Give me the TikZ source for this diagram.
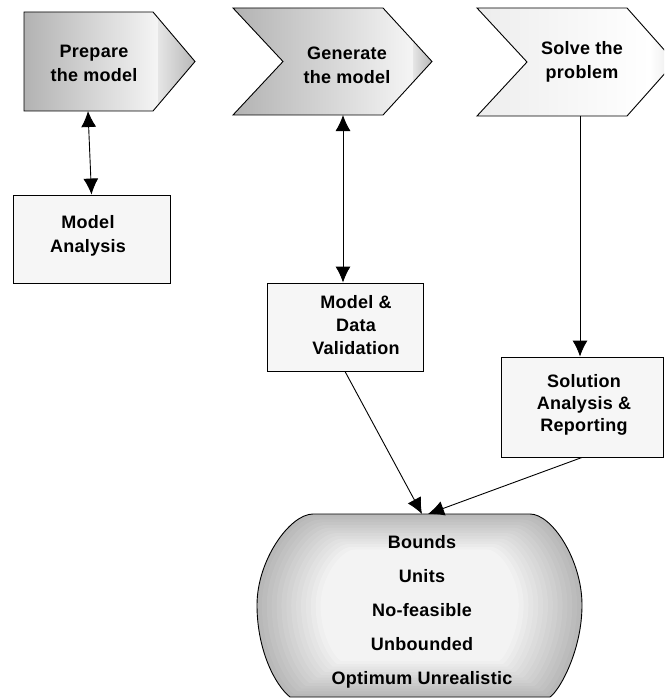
\documentclass[tikz,border=0pt]{standalone}
\usepackage{fontspec}
\setmainfont{Liberation Sans}[LetterSpace=1.5]
\usetikzlibrary{arrows.meta}

\definecolor{shadeA}{gray}{0.70}
\definecolor{shadeB}{gray}{0.96}
\definecolor{shadeC}{gray}{0.90}
\definecolor{shadeD}{gray}{0.72}
\definecolor{paleA}{gray}{0.93}
\definecolor{paleB}{gray}{1.0}
\definecolor{paleC}{gray}{0.91}
\definecolor{boxfill}{gray}{0.965}

\tikzset{
  outline/.style={draw=black, line width=0.9pt, line join=miter},
  txt/.style={font=\fontsize{18}{24}\selectfont\bfseries, align=center, inner sep=0pt},
  box/.style={outline, fill=boxfill, inner sep=0pt},
  link/.style={line width=0.9pt, -{Latex[length=16pt,width=15pt]}},
  twoway/.style={line width=0.9pt, {Latex[length=16pt,width=15pt]}-{Latex[length=16pt,width=15pt]}},
}

\begin{document}
\begin{tikzpicture}[x=1pt, y=-1pt]
  \clip (0,0) rectangle (664,698);
  \fill[white] (0,0) rectangle (664,698);

  % ---- step 1: Prepare the model (pentagon) ----
  \begin{scope}
    \clip (24,12) -- (153,12) -- (195,61.5) -- (153,111) -- (24,111) -- cycle;
    \shade[left color=shadeA, right color=shadeB] (24,12) rectangle (158,111);
    \shade[left color=shadeC, right color=shadeD] (158,12) rectangle (195,111);
  \end{scope}
  \draw[outline] (24,12) -- (153,12) -- (195,61.5) -- (153,111) -- (24,111) -- cycle;
  \node[txt] (prep) at (94,63) {Prepare\\the model};
  \coordinate (prep-b) at (88,111);

  % ---- step 2: Generate the model (chevron) ----
  \begin{scope}
    \clip (233,8) -- (383,8) -- (432,61.5) -- (383,115) -- (233,115) -- (283,61.5) -- cycle;
    \shade[left color=shadeA, right color=shadeB] (233,8) rectangle (413,115);
    \shade[left color=shadeC, right color=shadeD] (413,8) rectangle (432,115);
  \end{scope}
  \draw[outline] (233,8) -- (383,8) -- (432,61.5) -- (383,115) -- (233,115) -- (283,61.5) -- cycle;
  \node[txt] (gen) at (347,65) {Generate\\the model};
  \coordinate (gen-b) at (343,115);

  % ---- step 3: Solve the problem (chevron) ----
  \begin{scope}
    \clip (477,8) -- (627,8) -- (675,62) -- (627,116) -- (477,116) -- (527,62) -- cycle;
    \shade[left color=paleA, right color=paleB] (477,8) rectangle (650,116);
    \shade[left color=paleB, right color=paleC] (650,8) rectangle (675,116);
  \end{scope}
  \draw[outline] (477,8) -- (627,8) -- (675,62) -- (627,116) -- (477,116) -- (527,62) -- cycle;
  \node[txt] (solve) at (582,62) {Solve the\\problem};
  \coordinate (solve-b) at (580,116);

  % ---- analysis boxes ----
  \node[box, minimum width=157pt, minimum height=88pt] (ma) at (91.5,239) {};
  \node[txt] (ma-t) at (88,236) {Model\\Analysis};
  \node[box, minimum width=156pt, minimum height=88pt] (mdv) at (345,327) {};
  \node[txt, font=\fontsize{18}{23}\selectfont\bfseries] (mdv-t) at (356,325) {Model \&\\Data\\Validation};
  \node[box, minimum width=162pt, minimum height=100pt] (sol) at (582,407) {};
  \node[txt, font=\fontsize{18}{22}\selectfont\bfseries] (sol-t) at (584,405) {Solution\\Analysis \&\\Reporting};

  % ---- issues terminator with banded shading ----
  \begin{scope}[shift={(420,605)}]
    \foreach \k in {0,...,13} {
      \pgfmathsetmacro{\s}{1-0.03*\k}
      \pgfmathsetmacro{\g}{28-1.8*\k}
      \fill[black!\g, scale=\s]
        (-107,-91) -- (110,-91) .. controls (132,-91) and (162,-45) .. (162,0)
        .. controls (162,45) and (140,85) .. (130,92) -- (-130,92)
        .. controls (-145,80) and (-163,45) .. (-163,0)
        .. controls (-163,-45) and (-130,-91) .. (-107,-91) -- cycle;
    }
    \draw[outline]
      (-107,-91) -- (110,-91) .. controls (132,-91) and (162,-45) .. (162,0)
      .. controls (162,45) and (140,85) .. (130,92) -- (-130,92)
      .. controls (-145,80) and (-163,45) .. (-163,0)
      .. controls (-163,-45) and (-130,-91) .. (-107,-91) -- cycle;
  \end{scope}
  \node[txt, font=\fontsize{18}{34}\selectfont\bfseries] (issues) at (422,612)
    {Bounds\\Units\\No-feasible\\Unbounded\\Optimum Unrealistic};
  \coordinate (in-a) at (422,514);
  \coordinate (in-b) at (428,514);

  % ---- connectors ----
  \draw[twoway] (prep-b) -- (ma.north);
  \draw[twoway] (gen-b) -- (gen-b |- mdv.north);
  \draw[link] (solve-b) -- (solve-b |- sol.north);
  \draw[link] (mdv.south) -- (in-a);
  \draw[link] (sol.south) -- (in-b);
\end{tikzpicture}
\end{document}
